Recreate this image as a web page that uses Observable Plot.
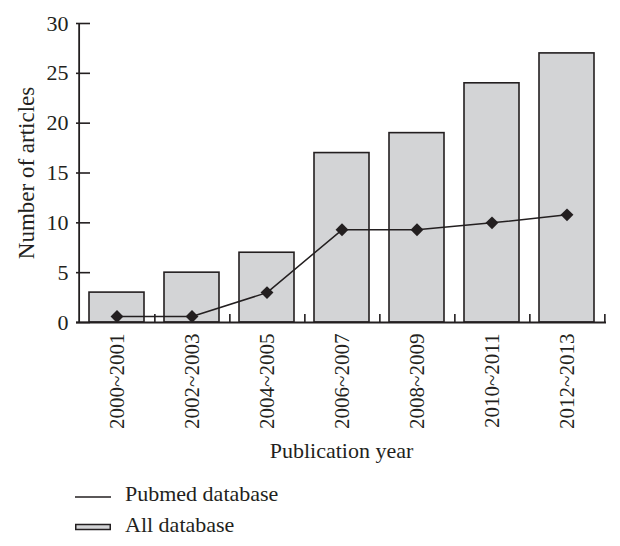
<!DOCTYPE html>
<html>
<head>
<meta charset="utf-8">
<script src="https://cdn.jsdelivr.net/npm/d3@7"></script>
<script src="https://cdn.jsdelivr.net/npm/@observablehq/plot@0.6"></script>
<style>
  html, body { margin: 0; padding: 0; background: #fff; }
  body { position: relative; width: 620px; height: 546px; overflow: hidden; font-family: "Liberation Serif", "DejaVu Serif", serif; color: #231f20; }
  #legend { position: absolute; left: 75px; top: 477.6px; font-size: 22px; }
  .row { height: 31px; line-height: 31px; display: flex; align-items: center; white-space: nowrap; }
  .row svg { margin-right: 14px; position: relative; top: 4px; }
</style>
</head>
<body>
<div id="chart"></div>
<div id="legend"></div>
<script>
const categories = ["2000~2001", "2002~2003", "2004~2005", "2006~2007", "2008~2009", "2010~2011", "2012~2013"];
const allDatabase = [3, 5, 7, 17, 19, 24, 27];
const pubmedDatabase = [0.6, 0.6, 3, 9.3, 9.3, 10, 10.8];
const yTicks = [0, 5, 10, 15, 20, 25, 30];
const seriesNames = ["Pubmed database", "All database"];
const xLabel = "Publication year";
const yLabel = "Number of articles";

const rows = categories.map((c, i) => ({period: c, all: allDatabase[i], pubmed: pubmedDatabase[i]}));

const ink = "#231f20";
const barFill = "#d3d4d6";
const W = 620, H = 475, mL = 76, mR = 14, mT = 23, mB = H - 322;
const pIn = 0.27, pOut = 0.135;
const step = (W - mL - mR) / (categories.length - pIn + 2 * pOut);

const chart = Plot.plot({
  width: W, height: H,
  marginLeft: mL, marginRight: mR, marginTop: mT, marginBottom: mB,
  style: {fontFamily: "Liberation Serif", fontSize: "22px", color: ink, background: "white"},
  x: {domain: categories, paddingInner: pIn, paddingOuter: pOut, align: 0.5, axis: null},
  y: {domain: [0, 30], axis: null},
  marks: [
    Plot.barY(rows, {x: "period", y: "all", fill: barFill, stroke: ink, strokeWidth: 1.6}),
    Plot.ruleY([0], {stroke: ink, strokeWidth: 1.8}),
    Plot.ruleX([categories[0]], {x: d => d, dx: -step / 2, y1: 0, y2: 30, stroke: ink, strokeWidth: 1.8}),
    Plot.axisY(yTicks, {tickSize: -14, tickPadding: 22, fontSize: 22, stroke: ink, strokeWidth: 1.6, fill: ink, label: null}),
    Plot.axisX({tickSize: -8, dx: step / 2, tickFormat: () => "", stroke: ink, strokeWidth: 1.6, label: null}),
    Plot.axisX({tickSize: 0, tickPadding: 11, tickRotate: -90, fontSize: 21, fill: ink, label: null}),
    Plot.line(rows, {x: "period", y: "pubmed", stroke: ink, strokeWidth: 1.5}),
    Plot.dot(rows, {x: "period", y: "pubmed", symbol: "diamond2", r: 5.8, fill: ink, stroke: "none"}),
    Plot.text([yLabel], {text: d => d, frameAnchor: "left", textAnchor: "middle", dx: -50, rotate: -90, fontSize: 23, fill: ink}),
    Plot.text([xLabel], {text: d => d, frameAnchor: "bottom", dy: 135, fontSize: 22, fill: ink})
  ]
});
document.getElementById("chart").appendChild(chart);

const legend = document.getElementById("legend");
legend.innerHTML = `
  <div class="row"><svg width="36" height="10"><line x1="0" x2="36" y1="5" y2="5" stroke="${ink}" stroke-width="1.5"/></svg><span>${seriesNames[0]}</span></div>
  <div class="row"><svg width="36" height="10"><rect x="0.75" y="1.5" width="34.5" height="5" fill="${barFill}" stroke="${ink}" stroke-width="1.5"/></svg><span>${seriesNames[1]}</span></div>`;
</script>
</body>
</html>
